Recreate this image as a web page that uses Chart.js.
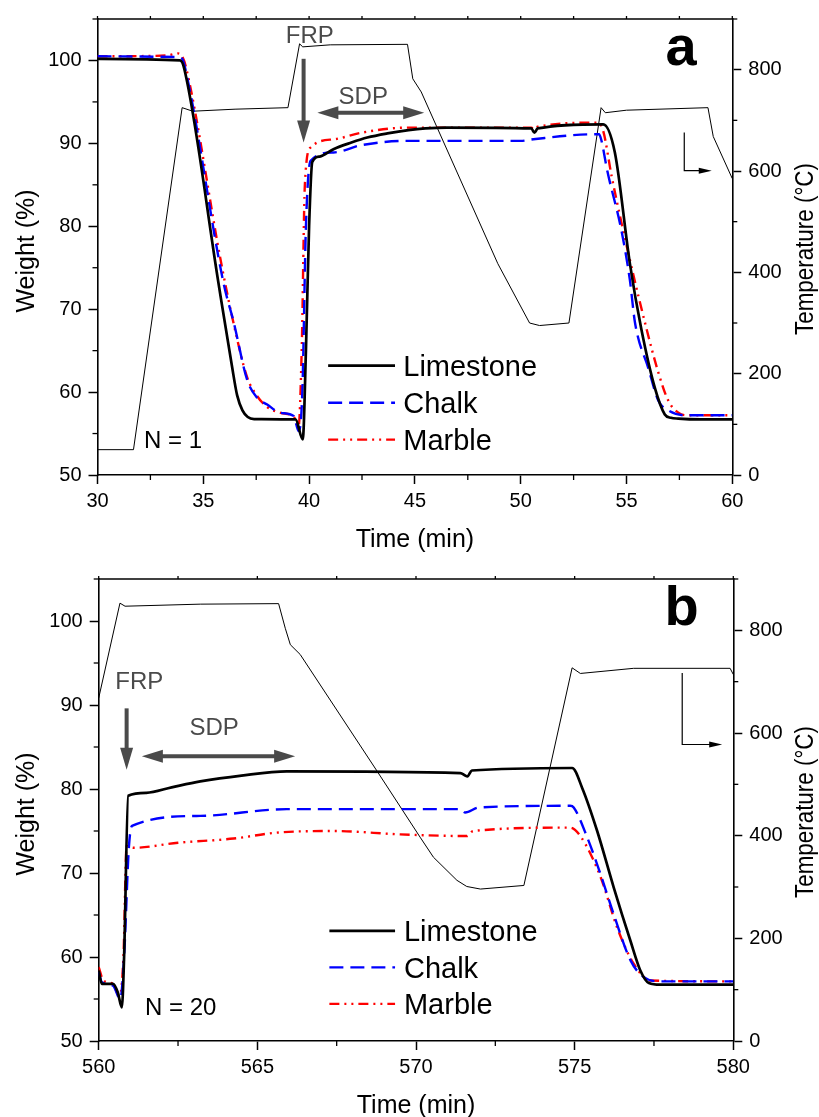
<!DOCTYPE html>
<html lang="en">
<head>
<meta charset="UTF-8">
<title>TGA calcination / carbonation cycles</title>
<script src="https://cdn.jsdelivr.net/npm/chart.js"></script>
<style>
  body { margin: 0; background: #fff; }
  #wrap { position: relative; width: 819px; height: 1117px; }
  #chartA { position: absolute; left: 0; top: 0; }
  #chartB { position: absolute; left: 0; top: 560px; }
</style>
</head>
<body>
<div id="wrap">
  <canvas id="chartA" width="819" height="560"></canvas>
  <canvas id="chartB" width="819" height="557"></canvas>
</div>
<script>
// ---- panel a (N = 1) ----
const timeA_lime = [30, 33.9, 34.1, 35.72, 36.35, 36.6, 36.85, 37.1, 37.4, 39.36, 39.7, 39.85, 40.0, 40.15, 40.5, 41.15, 42.0, 42.75, 43.7, 44.7, 45.5, 46.5, 50.5, 50.65, 50.8, 53.9, 54.45, 55.16, 55.7, 56.34, 56.81, 57.1, 57.45, 58.5, 60];
const weightA_lime = [100.2, 100.0, 99.0, 73.1, 63.2, 59.6, 57.8, 57.0, 56.75, 56.7, 54.3, 65, 80, 87.75, 88.4, 89.3, 90.1, 90.7, 91.2, 91.6, 91.8, 91.9, 91.8, 91.3, 91.8, 92.3, 88.9, 75.5, 67.6, 60.5, 57.3, 56.9, 56.8, 56.7, 56.7];

const timeA_chalk = [30, 33.8, 34.0, 34.15, 35.96, 36.44, 37.07, 37.55, 38.02, 38.65, 39.28, 39.5, 39.68, 39.85, 40.07, 41.15, 42.5, 44.7, 50.0, 50.6, 53.5, 53.7, 53.8, 54.1, 54.76, 55.16, 55.4, 56.03, 56.5, 56.97, 57.76, 60];
const weightA_chalk = [100.5, 100.4, 100.2, 99, 73.1, 68.4, 61.5, 59.3, 58.5, 57.5, 57.1, 55.3, 60, 80, 87.9, 88.9, 89.8, 90.3, 90.3, 90.5, 91.1, 91.1, 90.5, 86.6, 79.5, 73.5, 68.4, 62.9, 59.0, 57.8, 57.2, 57.2];

const timeA_marble = [30, 33.3, 33.8, 34.0, 34.2, 35.85, 36.44, 37.07, 37.55, 38.02, 38.65, 39.28, 39.5, 39.65, 39.8, 40.07, 41.2, 42.5, 44.65, 50.5, 50.65, 50.8, 53.65, 53.9, 54.3, 55.2, 55.95, 56.5, 56.97, 57.45, 57.9, 60];
const weightA_marble = [100.5, 100.6, 100.85, 100.5, 99, 75.5, 68.2, 61.8, 59.5, 58.2, 57.5, 57.0, 55.8, 65, 85, 89.5, 90.5, 91.3, 91.9, 91.9, 91.7, 92.0, 92.5, 91.5, 86, 75.5, 67.6, 62.4, 59.0, 57.5, 57.2, 57.2];

const timeA_temp = [30, 31.7, 34.0, 34.5, 36.5, 39.0, 39.55, 39.7, 41.0, 44.65, 44.9, 45.3, 48.92, 50.42, 50.89, 52.28, 53.8, 54.0, 55.0, 58.85, 59.1, 60];
const tempA = [50, 50, 725, 718, 722, 725, 851, 845, 849, 850, 782, 756, 417, 300, 295, 300, 725, 715, 720, 725, 668, 585];

// ---- panel b (N = 20) ----
const timeB_lime = [560, 560.1, 560.45, 560.6, 560.73, 560.8, 560.93, 561.5, 562.3, 563.2, 564.5, 565.93, 571.4, 571.55, 571.62, 571.76, 574.92, 575.24, 575.71, 576.23, 576.76, 577.07, 577.34, 577.7, 580];
const weightB_lime = [58.4, 56.8, 56.8, 55.8, 54.0, 60, 79.2, 79.55, 80.2, 80.9, 81.6, 82.1, 81.9, 81.6, 81.5, 82.2, 82.5, 80.1, 75.0, 68.3, 61.9, 58.4, 56.9, 56.7, 56.7];

const timeB_chalk = [560, 560.1, 560.45, 560.68, 560.8, 560.95, 561.05, 563.2, 565.93, 571.4, 571.55, 571.98, 574.86, 574.97, 575.4, 575.82, 576.23, 576.76, 577.18, 577.7, 580];
const weightB_chalk = [58.2, 57.0, 56.6, 55.0, 60, 73, 75.6, 76.8, 77.6, 77.6, 77.2, 77.8, 78.0, 77.8, 74.2, 69.8, 65.1, 59.6, 57.6, 57.1, 57.1];

const timeB_marble = [560, 560.15, 560.45, 560.65, 560.78, 560.88, 561.09, 562.5, 564.25, 565.6, 567.4, 569.5, 571.6, 571.8, 574.86, 575.18, 575.82, 576.34, 576.86, 577.39, 580];
const weightB_marble = [58.8, 57.2, 56.8, 55.3, 60, 73.2, 73.0, 73.6, 74.1, 74.8, 75.0, 74.6, 74.4, 75.0, 75.4, 74.4, 69.5, 63.5, 59.2, 57.2, 57.1];

const timeB_temp = [560, 560.67, 560.83, 563.2, 565.67, 565.88, 566.04, 566.35, 568.77, 570.13, 570.55, 571.29, 571.6, 572.03, 573.4, 574.92, 575.18, 576.86, 579.9, 580];
const tempB = [668, 853, 847, 851, 852, 804, 772, 753, 526, 397, 358, 313, 301, 296, 303, 727, 716, 726, 726, 714];

const FAM = '"Liberation Sans", Arial, Helvetica, sans-serif';
Chart.defaults.font.family = FAM;
Chart.defaults.color = '#000';

const pts = (t, v) => t.map((x, i) => ({ x: x, y: v[i] }));
const isMajor = (v, m) => Math.abs(v / m - Math.round(v / m)) < 1e-6;

function line(ctx, x1, y1, x2, y2) {
  ctx.beginPath(); ctx.moveTo(x1, y1); ctx.lineTo(x2, y2); ctx.stroke();
}
// filled arrow head, tip at (x,y), direction (dx,dy)
function head(ctx, x, y, dx, dy, len, wid) {
  const bx = x - dx * len, by = y - dy * len;
  ctx.beginPath();
  ctx.moveTo(x, y);
  ctx.lineTo(bx - dy * wid / 2, by + dx * wid / 2);
  ctx.lineTo(bx + dy * wid / 2, by - dx * wid / 2);
  ctx.closePath();
  ctx.fill();
}

const decor = {
  id: 'decor',
  afterDatasetsDraw(chart, args, o) {
    const { ctx, chartArea: ca } = chart;
    const { x, y, y1 } = chart.scales;
    const X = v => x.getPixelForValue(v), Y = v => y.getPixelForValue(v);
    ctx.save();
    ctx.strokeStyle = '#000'; ctx.fillStyle = '#000';

    // top frame
    ctx.lineWidth = 1.6;
    line(ctx, ca.left, ca.top, ca.right, ca.top);

    // minor ticks (major ones come from chart.js)
    ctx.lineWidth = 1.3;
    x.ticks.forEach(t => {
      const p = X(t.value);
      if (!isMajor(t.value, 5)) line(ctx, p, ca.bottom, p, ca.bottom + 5);
      line(ctx, p, ca.top, p, ca.top - 3);
    });
    y.ticks.forEach(t => {
      if (isMajor(t.value, 10)) return;
      const p = Y(t.value);
      line(ctx, ca.left - 5, p, ca.left, p);
    });
    y1.ticks.forEach(t => {
      if (isMajor(t.value, 200)) return;
      const p = y1.getPixelForValue(t.value);
      line(ctx, ca.right, p, ca.right + 5, p);
    });

    // axis titles
    const midY = (ca.top + ca.bottom) / 2;
    ctx.font = '25px ' + FAM;
    ctx.textAlign = 'center'; ctx.textBaseline = 'alphabetic';
    ctx.fillText('Time (min)', (ca.left + ca.right) / 2, ca.bottom + 72);
    ctx.save();
    ctx.translate(33.5, midY + 4); ctx.rotate(-Math.PI / 2);
    ctx.fillText('Weight (%)', 0, 0);
    ctx.restore();
    ctx.save();
    ctx.translate(813, midY + 2); ctx.rotate(-Math.PI / 2);
    ctx.fillText('Temperature (°C)', 0, 0, 172);
    ctx.restore();

    // panel tag
    ctx.font = 'bold 56px ' + FAM;
    ctx.fillText(o.tag, X(o.tagAt[0]), Y(o.tagAt[1]));

    // FRP / SDP annotations
    const grey = '#4a4a4a';
    ctx.fillStyle = grey; ctx.strokeStyle = grey;
    ctx.font = '24px ' + FAM;
    ctx.fillText('FRP', X(o.frpText[0]), Y(o.frpText[1]));
    ctx.fillText('SDP', X(o.sdpText[0]), Y(o.sdpText[1]));
    ctx.lineWidth = 4;
    const ax = X(o.frpArrow[0]), ay1 = Y(o.frpArrow[1]), ay2 = Y(o.frpArrow[2]);
    line(ctx, ax, ay1, ax, ay2 - 18);
    head(ctx, ax, ay2, 0, 1, 22, 13);
    const sx1 = X(o.sdpArrow[0]), sx2 = X(o.sdpArrow[1]), sy = Y(o.sdpArrow[2]);
    line(ctx, sx1 + 18, sy, sx2 - 18, sy);
    head(ctx, sx1, sy, -1, 0, 21, 13);
    head(ctx, sx2, sy, 1, 0, 21, 13);

    // temperature curve -> right axis marker
    ctx.fillStyle = '#000'; ctx.strokeStyle = '#000';
    ctx.lineWidth = 1.2;
    const tx = X(o.tArrow[0]), ty1 = Y(o.tArrow[1]), ty2 = Y(o.tArrow[2]), tx2 = X(o.tArrow[3]);
    ctx.beginPath(); ctx.moveTo(tx, ty1); ctx.lineTo(tx, ty2); ctx.lineTo(tx2 - 10, ty2); ctx.stroke();
    head(ctx, tx2, ty2, 1, 0, 13, 6);

    // cycle number
    ctx.font = '24px ' + FAM;
    ctx.textAlign = 'left';
    ctx.fillText(o.nText, X(o.nAt[0]), Y(o.nAt[1]));

    // legend
    chart.data.datasets.forEach((ds, i) => {
      if (ds.noLegend) return;
      const yy = Y(o.legRows[i]);
      ctx.strokeStyle = ds.borderColor;
      ctx.lineWidth = ds.borderWidth;
      ctx.setLineDash(ds.borderDash || []);
      line(ctx, X(o.legX[0]), yy, X(o.legX[1]), yy);
      ctx.setLineDash([]);
      ctx.fillStyle = '#000';
      ctx.font = '29px ' + FAM;
      ctx.fillText(ds.label, X(o.legX[2]), yy + 10.5);
    });
    ctx.restore();
  }
};

function series(label, t, w, color, dash, width, order) {
  return {
    label: label, data: pts(t, w), yAxisID: 'y',
    borderColor: color, borderDash: dash, borderWidth: width,
    pointRadius: 0, cubicInterpolationMode: 'monotone', fill: false, order: order
  };
}

function panel(id, p) {
  const border = { color: '#000', width: 1.6 };
  const grid = m => ({
    drawOnChartArea: false, drawTicks: true, tickLength: 9, tickWidth: 1.5,
    tickColor: c => (c.tick && !isMajor(c.tick.value, m)) ? 'rgba(0,0,0,0)' : '#000'
  });
  const tickFont = { size: 20, family: FAM };
  new Chart(document.getElementById(id), {
    type: 'line',
    data: {
      datasets: [
        series('Limestone', p.lime[0], p.lime[1], '#000000', [], 2.7, 1),
        series('Chalk', p.chalk[0], p.chalk[1], '#0000ff', [14, 7], 2.4, 2),
        series('Marble', p.marble[0], p.marble[1], '#ff0000', [10, 5, 2, 5, 2, 5], 2.4, 3),
        {
          label: 'Temperature', data: pts(p.temp[0], p.temp[1]), yAxisID: 'y1',
          borderColor: '#000', borderWidth: 1, pointRadius: 0, tension: 0,
          fill: false, order: 4, noLegend: true
        }
      ]
    },
    options: {
      responsive: false,
      devicePixelRatio: 1,
      animation: false,
      events: [],
      layout: { padding: { top: p.padTop, left: 0, right: 0, bottom: 0 } },
      scales: {
        x: {
          type: 'linear', position: 'bottom', min: p.xMin, max: p.xMax,
          ticks: { stepSize: 2.5, font: tickFont, color: '#000', padding: 5, maxRotation: 0, autoSkip: false,
                   callback: v => isMajor(v, 5) ? v : '' },
          grid: grid(5), border: border,
          afterFit: s => { s.height = p.xH; }
        },
        y: {
          type: 'linear', position: 'left', min: 50, max: 105,
          ticks: { stepSize: 5, font: tickFont, color: '#000', padding: 7, autoSkip: false,
                   callback: v => isMajor(v, 10) ? v : '' },
          grid: grid(10), border: border,
          afterFit: s => { s.width = p.yW; }
        },
        y1: {
          type: 'linear', position: 'right', min: 0, max: 900,
          ticks: { stepSize: 100, font: tickFont, color: '#000', padding: 7, autoSkip: false,
                   callback: v => isMajor(v, 200) ? v : '' },
          grid: grid(200), border: border,
          afterFit: s => { s.width = p.y1W; }
        }
      },
      plugins: {
        legend: { display: false },
        tooltip: { enabled: false },
        decor: p.decor
      }
    },
    plugins: [decor]
  });
}

panel('chartA', {
  lime: [timeA_lime, weightA_lime], chalk: [timeA_chalk, weightA_chalk],
  marble: [timeA_marble, weightA_marble], temp: [timeA_temp, tempA],
  xMin: 30, xMax: 60, padTop: 11, yW: 97.5, y1W: 86.7, xH: 85,
  decor: {
    tag: 'a', tagAt: [57.58, 99.4],
    frpText: [40.03, 102.05], frpArrow: [39.74, 100.2, 90.1],
    sdpText: [42.56, 94.8], sdpArrow: [40.39, 45.44, 93.7],
    tArrow: [57.73, 91.3, 86.7, 59.03],
    nText: 'N = 1', nAt: [32.2, 53.2],
    legX: [40.9, 44.06, 44.45], legRows: [63.19, 58.72, 54.27]
  }
});

panel('chartB', {
  lime: [timeB_lime, weightB_lime], chalk: [timeB_chalk, weightB_chalk],
  marble: [timeB_marble, weightB_marble], temp: [timeB_temp, tempB],
  xMin: 560, xMax: 580, padTop: 16.7, yW: 98.7, y1W: 85.7, xH: 76,
  decor: {
    tag: 'b', tagAt: [578.37, 99.5],
    frpText: [561.28, 91.93], frpArrow: [560.88, 89.6, 82.3],
    sdpText: [563.64, 86.4], sdpArrow: [561.36, 566.19, 83.9],
    tArrow: [578.39, 93.8, 85.3, 579.65],
    nText: 'N = 20', nAt: [561.46, 53.04],
    legX: [567.27, 569.34, 569.62], legRows: [63.12, 58.77, 54.42]
  }
});
</script>
</body>
</html>
